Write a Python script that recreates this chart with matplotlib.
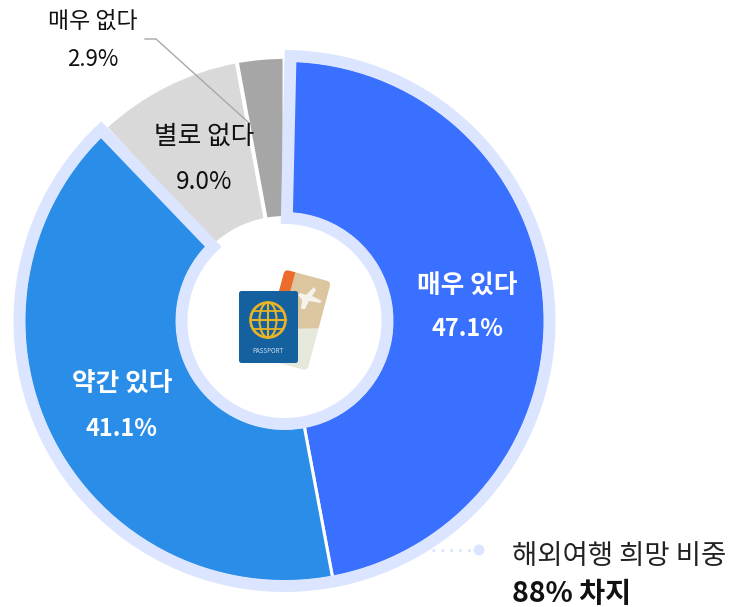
"""Donut chart of overseas travel intent, canvas laid out in reference pixels."""

import matplotlib
matplotlib.use("Agg")
from matplotlib import pyplot as plt
from matplotlib.patches import Circle, Ellipse, FancyBboxPatch, Polygon, Wedge
from matplotlib.transforms import Affine2D

W, H = 734, 607
CX, CY = 284.5, 321

labels = ['매우 있다', '약간 있다', '별로 없다', '매우 없다']
values = [47.1, 41.1, 9.0, 2.9]
colors = ['#3a70ff', '#2a8ee8', '#d9d9d9', '#a6a6a6']
note_lines = ['해외여행 희망 비중', '88% 차지']

plt.rcParams['font.family'] = ['Noto Sans CJK KR', 'DejaVu Sans']

RING = '#dbe5ff'


def py(y):
    return H - y


def draw_label(x, y, y2, name, value, size, size2, color='#111111', weight='normal'):
    ax.text(x, py(y), name, ha='center', va='center', fontsize=size, color=color,
            fontweight=weight, zorder=10)
    ax.text(x, py(y2), f"{value}%", ha='center', va='center', fontsize=size2,
            color=color, fontweight=weight, zorder=10)


fig = plt.figure(figsize=(W / 100, H / 100), dpi=100)
ax = fig.add_axes([0, 0, 1, 1])
center = (CX, py(CY))

# blue slices sit under the light outline, grey ones are a bit larger
blue, _ = ax.pie(values, colors=colors, startangle=90, counterclock=False, center=center,
                 radius=261, wedgeprops=dict(width=154, edgecolor='white', linewidth=2.2, zorder=2))
for w in blue[2:]:
    w.set_visible(False)
grey, _ = ax.pie(values, colors=colors, startangle=90, counterclock=False, center=center,
                 radius=264, wedgeprops=dict(width=161, edgecolor='white', linewidth=2.8, zorder=1))
for w in grey[:2]:
    w.set_visible(False)

# light outline around the "yes" share
yes_deg = (values[0] + values[1]) / sum(values) * 360
ax.add_patch(Wedge(center, 265, 90 - yes_deg + 1.0, 90 - 1.3, width=162, facecolor='none',
                   edgecolor=RING, linewidth=8.6, joinstyle='miter', zorder=3))

# leader line for the smallest slice
ax.plot([145, 156, 248], [py(39), py(39), py(122)], color='#a8a8a8', lw=1.0, zorder=9)

# callout
ax.plot([432, 474], [py(550), py(550)], color=RING, lw=2, ls=(0, (1, 2.2)), zorder=4)
ax.add_patch(Circle((479, py(550)), 5.5, facecolor=RING, edgecolor='none', zorder=4))
ax.text(512, py(556), note_lines[0], ha='left', va='center', fontsize=19.8, color='#222222')
ax.text(512, py(594), note_lines[1], ha='left', va='center', fontsize=20.4, color='#111111',
        fontweight='bold')

draw_label(467, 286, 329, labels[0], values[0], 18.5, 17, color='white', weight='bold')
draw_label(122, 384, 429, labels[1], values[1], 18.5, 17, color='white', weight='bold')
draw_label(204, 137, 182, labels[2], values[2], 18.5, 17.5)
draw_label(93, 22, 60, labels[3], values[3], 16.5, 16)

# ticket behind the passport, drawn upright then rotated
rot = Affine2D().rotate_deg_around(296, py(320), -15) + ax.transData
ticket = FancyBboxPatch((272, py(366)), 48, 92, boxstyle="round,pad=0,rounding_size=5",
                        facecolor='#e6e8dc', edgecolor='none', zorder=5, transform=rot)
ax.add_patch(ticket)
top = Polygon([(272, py(274)), (320, py(274)), (320, py(322)), (272, py(336))],
              facecolor='#dcc6a0', edgecolor='none', zorder=5.1, transform=rot)
top.set_clip_path(ticket)
ax.add_patch(top)
strip = Polygon([(272, py(274)), (283, py(274)), (283, py(310)), (272, py(310))],
                facecolor='#ee6c2b', edgecolor='none', zorder=5.2, transform=rot)
strip.set_clip_path(ticket)
ax.add_patch(strip)
# plane on the ticket
ax.add_patch(Polygon([(314, py(287)), (316, py(290)), (312, py(296)), (322, py(301)), (320, py(303)),
                      (309, py(301)), (305, py(309)), (301, py(309)), (302, py(300)), (298, py(295)),
                      (300, py(293)), (306, py(295))],
                     facecolor='#f6f3ec', edgecolor='none', zorder=5.3))

# passport
ax.add_patch(FancyBboxPatch((239, py(363)), 59, 72, boxstyle="round,pad=0,rounding_size=2.5",
                            facecolor='#15609f', edgecolor='none', zorder=6))
GOLD = '#e8b423'
gx, gy = 268, py(320)
ax.add_patch(Circle((gx, gy), 17.5, facecolor='none', edgecolor=GOLD, lw=1.9, zorder=7))
ax.add_patch(Ellipse((gx, gy), 17, 35, facecolor='none', edgecolor=GOLD, lw=1.5, zorder=7))
ax.plot([gx, gx], [gy - 17.5, gy + 17.5], color=GOLD, lw=1.5, zorder=7)
ax.plot([gx - 17.5, gx + 17.5], [gy, gy], color=GOLD, lw=1.5, zorder=7)
ax.plot([gx - 15, gx + 15], [gy + 9, gy + 9], color=GOLD, lw=1.3, zorder=7)
ax.plot([gx - 15, gx + 15], [gy - 9, gy - 9], color=GOLD, lw=1.3, zorder=7)
ax.text(gx, py(351), 'PASSPORT', ha='center', va='center', fontsize=4.5, color='#cfe0f0', zorder=7)

ax.set_xlim(0, W)
ax.set_ylim(0, H)
ax.set_aspect('equal')
ax.axis('off')

fig.savefig('out.png', dpi=100)
